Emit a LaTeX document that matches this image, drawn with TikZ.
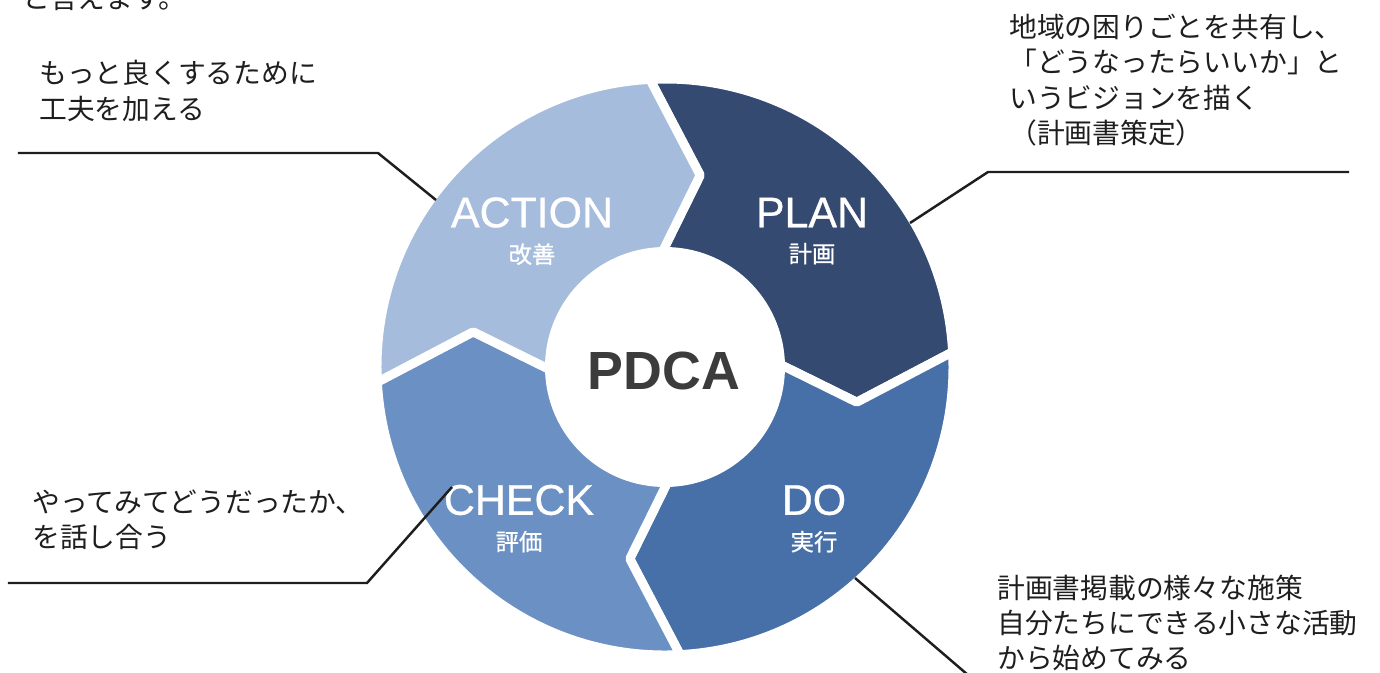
\documentclass[tikz,border=0pt]{standalone}
\usepackage{fontspec}
\setmainfont{Liberation Sans}
\newfontfamily\lblfont[FakeBold=0.7]{Liberation Sans}
\newfontfamily\jpfont{Noto Sans CJK JP}
\newfontfamily\jpsubfont[FakeBold=0.8]{Noto Sans CJK JP}
\usepackage{tikz}
\usetikzlibrary{positioning}
\definecolor{segact}{HTML}{A5BCDC}
\definecolor{segplan}{HTML}{344A70}
\definecolor{segdo}{HTML}{4870A8}
\definecolor{segcheck}{HTML}{6B91C4}
\definecolor{pdcagray}{HTML}{3C3C3C}
\definecolor{inkdark}{HTML}{1E1E1E}

\begin{document}
\begin{tikzpicture}[
  seg/.style={draw=white, line width=1.8mm, line join=round},
  lbl/.style={inner sep=0pt, text=white, font=\lblfont\fontsize{24.4}{26}\selectfont},
  sublbl/.style={inner sep=0pt, text=white, font=\jpsubfont\fontsize{13.3}{15}\selectfont},
  note/.style={inner sep=0pt, anchor=west, align=left, text=inkdark, font=\jpfont\fontsize{15.8}{20.1}\selectfont},
  leader/.style={draw=inkdark, line width=1.4pt},
]
  \useasboundingbox (-13.3,-6.1) rectangle (14.3,7.34);

  % Ring segments, clockwise
  \fill[segplan, seg] (93:5.76) -- (79.6:3.9) -- (91.2:2.31) arc[start angle=91.2, end angle=1.2, radius=2.31]
    -- (-10.4:3.9) -- (3:5.76) arc[start angle=3, end angle=93, radius=5.76] -- cycle;
  \fill[segdo, seg] (3:5.76) -- (-10.4:3.9) -- (1.2:2.31) arc[start angle=1.2, end angle=-88.8, radius=2.31]
    -- (-100.4:3.9) -- (-87:5.76) arc[start angle=-87, end angle=3, radius=5.76] -- cycle;
  \fill[segcheck, seg] (-87:5.76) -- (-100.4:3.9) -- (-88.8:2.31) arc[start angle=-88.8, end angle=-178.8, radius=2.31]
    -- (-190.4:3.9) -- (-177:5.76) arc[start angle=-177, end angle=-87, radius=5.76] -- cycle;
  \fill[segact, seg] (183:5.76) -- (169.6:3.9) -- (181.2:2.31) arc[start angle=181.2, end angle=91.2, radius=2.31]
    -- (79.6:3.9) -- (93:5.76) arc[start angle=93, end angle=183, radius=5.76] -- cycle;

  % Centre
  \node[text=pdcagray, font=\bfseries\fontsize{30.6}{33}\selectfont] (pdca) at (-0.02,-0.08) {PDCA};

  % Segment labels
  \node[lbl] (plan) at (2.94,3.09) {PLAN};
  \node[sublbl, below=3mm of plan] (planjp) {計画};
  \node[lbl] (do) at (2.98,-2.66) {DO};
  \node[sublbl, below=3mm of do] (dojp) {実行};
  \node[lbl] (check) at (-2.92,-2.66) {CHECK};
  \node[sublbl, below=3mm of check] (checkjp) {評価};
  \node[lbl] (act) at (-2.66,3.09) {ACTION};
  \node[sublbl, below=3mm of act] (actjp) {改善};

  % Notes
  \node[note] (prev) at (-12.86,7.36) {と言えます。};
  \node[note] (actnote) at (-12.52,5.52) {もっと良くするために\\工夫を加える};
  \node[note] (plannote) at (6.88,5.74) {地域の困りごとを共有し、\\「どうなったらいいか」と\\いうビジョンを描く\\（計画書策定）};
  \node[note] (checknote) at (-12.66,-3.06) {やってみてどうだったか、\\を話し合う};
  \node[note] (donote) at (6.64,-5.12) {計画書掲載の様々な施策\\自分たちにできる小さな活動\\から始めてみる};

  % Leader lines
  \coordinate (actA) at (-12.94,4.28);
  \coordinate (actB) at (-5.74,4.28);
  \coordinate (actC) at (-4.58,3.34);
  \coordinate (planA) at (13.68,3.90);
  \coordinate (planB) at (6.46,3.90);
  \coordinate (planC) at (4.90,2.88);
  \coordinate (checkA) at (-13.14,-4.32);
  \coordinate (checkB) at (-5.96,-4.32);
  \coordinate (checkC) at (-4.26,-2.40);
  \coordinate (doA) at (3.80,-4.22);
  \coordinate (doB) at (6.20,-6.28);
  \draw[leader] (actA) -- (actB) -- (actC);
  \draw[leader] (planA) -- (planB) -- (planC);
  \draw[leader] (checkA) -- (checkB) -- (checkC);
  \draw[leader] (doA) -- (doB);
\end{tikzpicture}
\end{document}
